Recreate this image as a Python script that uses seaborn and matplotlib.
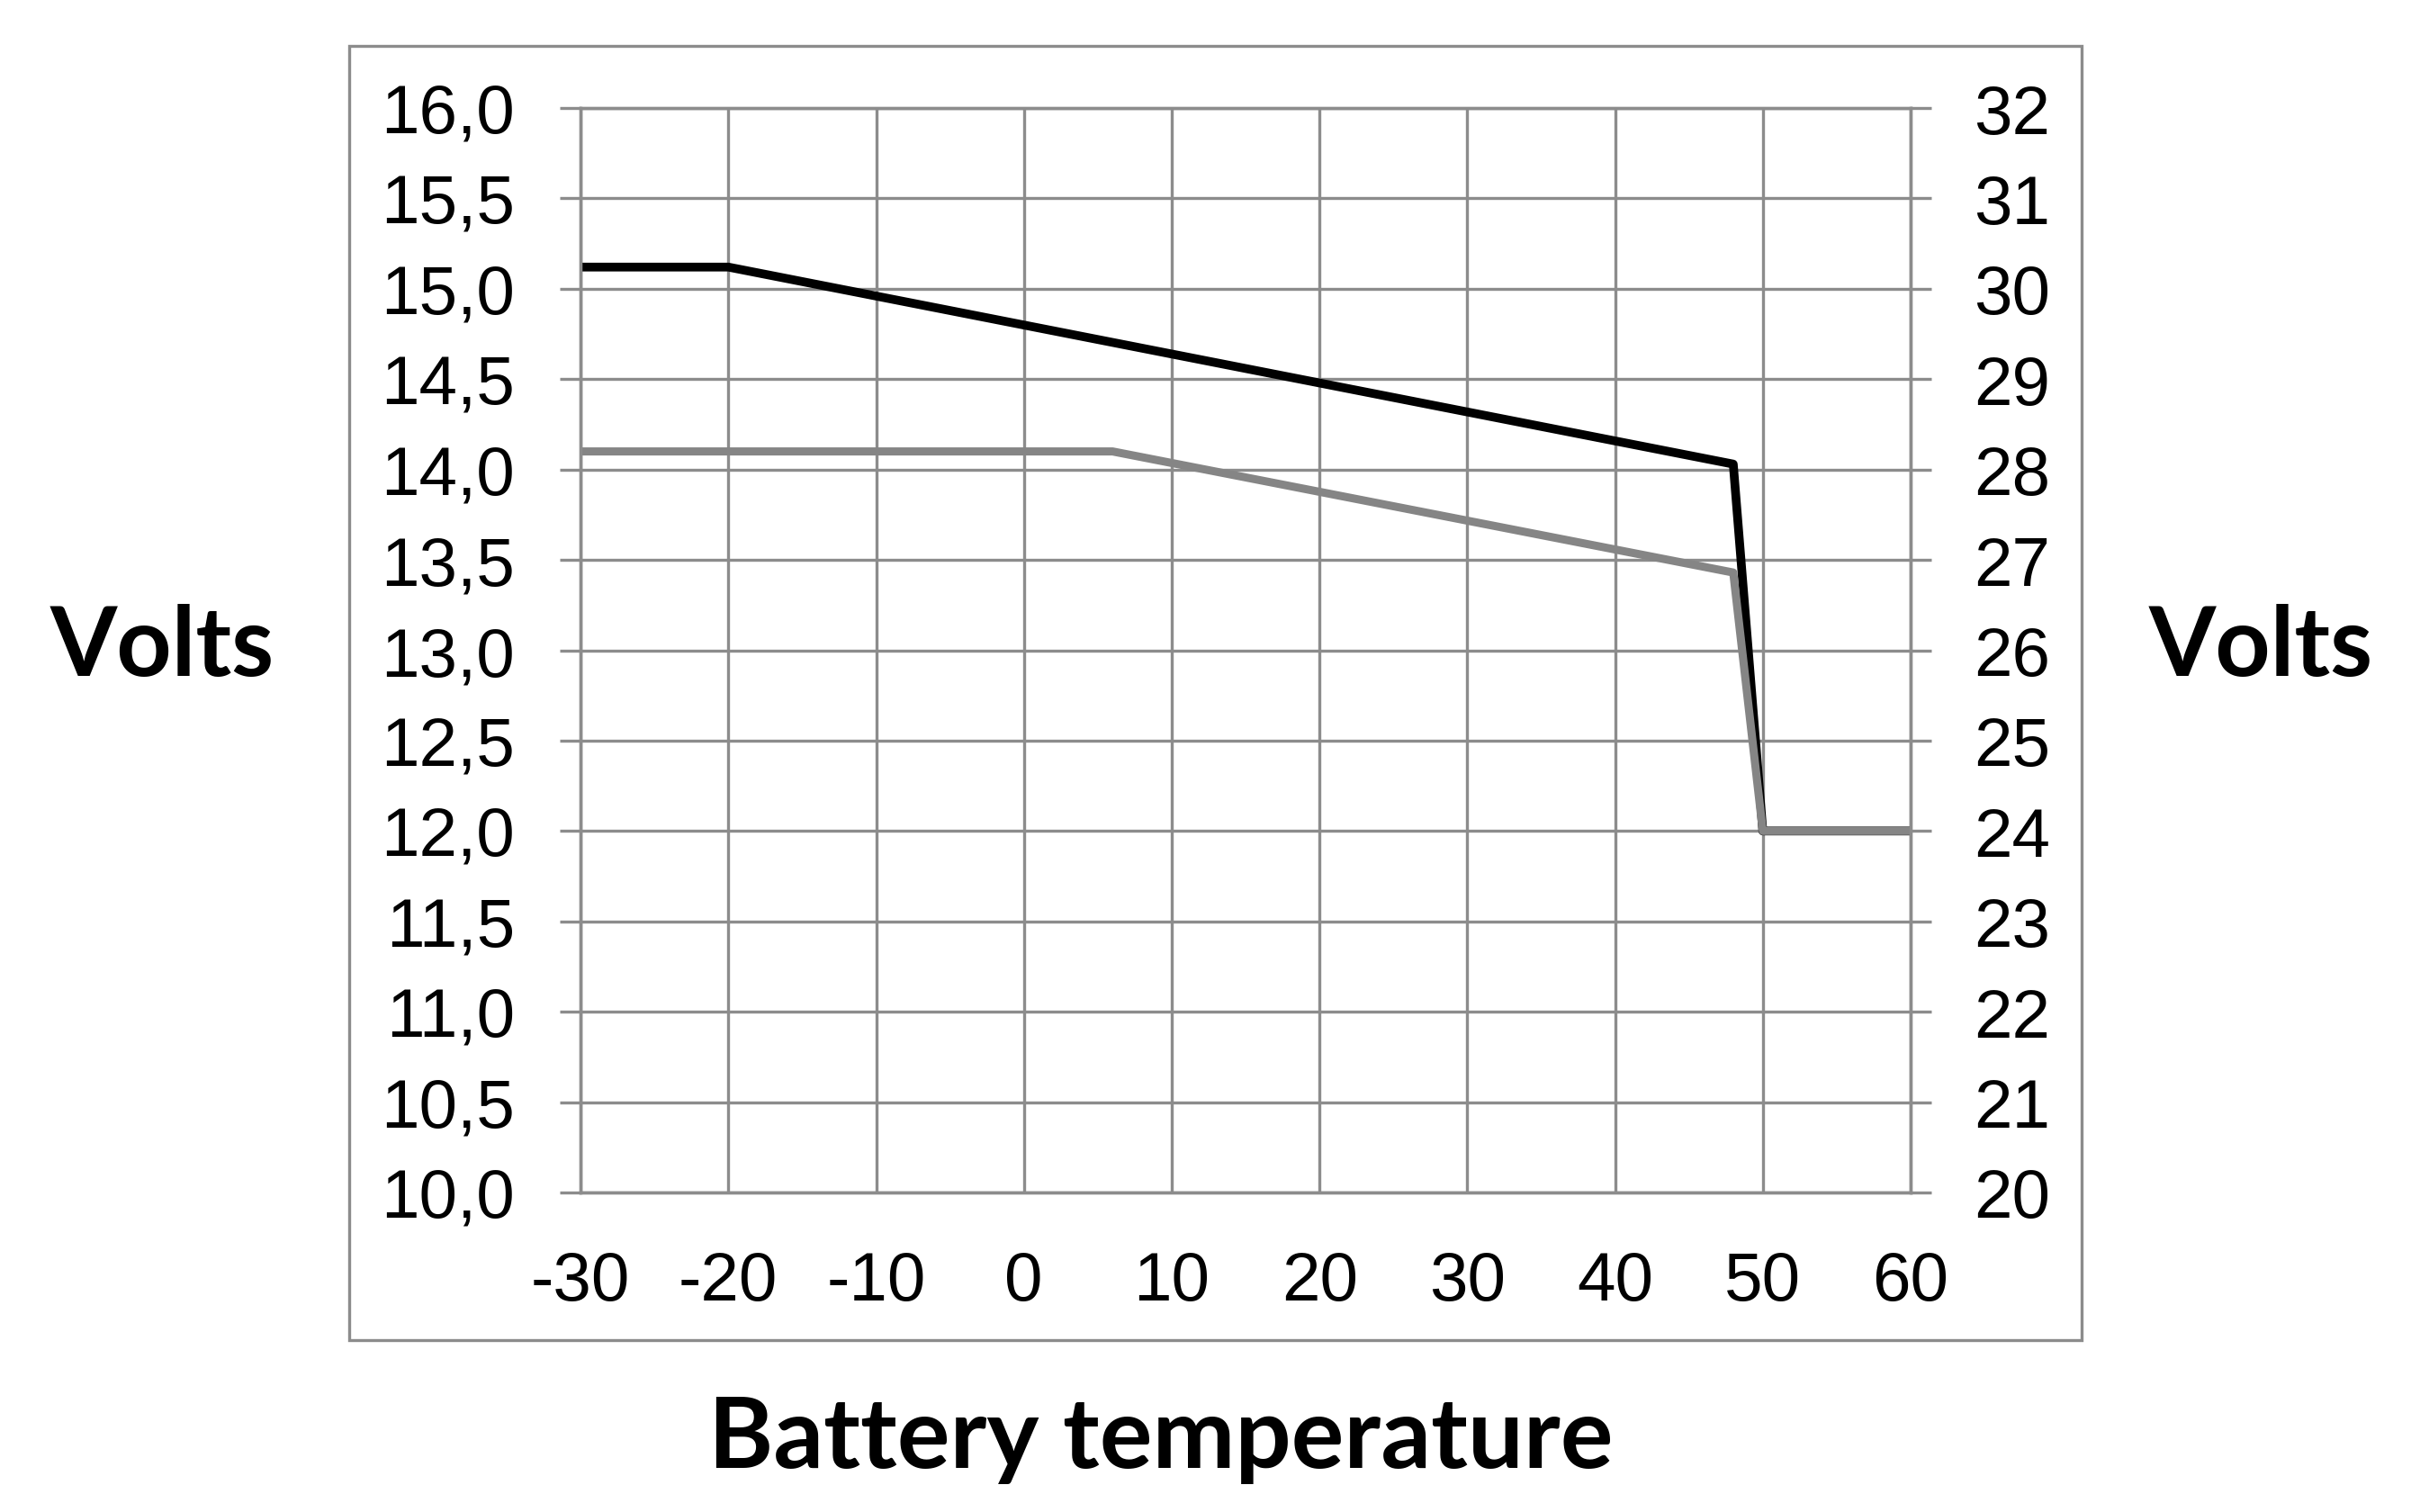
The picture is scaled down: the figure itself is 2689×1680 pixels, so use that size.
import pandas as pd
import seaborn as sns
import matplotlib.pyplot as plt
from matplotlib.patches import Rectangle

# Values
temps_high = [-30, -20, 48, 50, 60]
volts_high = [15.12, 15.12, 14.03, 12.0, 12.0]
temps_low = [-30, 6, 48, 50, 60]
volts_low = [14.1, 14.1, 13.43, 12.0, 12.0]

x_ticks = [-30, -20, -10, 0, 10, 20, 30, 40, 50, 60]
left_ticks = [10.0, 10.5, 11.0, 11.5, 12.0, 12.5, 13.0, 13.5, 14.0, 14.5, 15.0, 15.5, 16.0]
right_ticks = [20, 21, 22, 23, 24, 25, 26, 27, 28, 29, 30, 31, 32]

df_high = pd.DataFrame({"temp": temps_high, "volts": volts_high})
df_low = pd.DataFrame({"temp": temps_low, "volts": volts_low})

sns.set_theme(style="white")
plt.rcParams['font.family'] = ['Liberation Sans', 'DejaVu Sans']
plt.rcParams['axes.unicode_minus'] = False

grid_col = "#8c8c8c"

fig = plt.figure(figsize=(26.89, 16.81), dpi=100)
ax = fig.add_axes([0.2399, 0.2112, 0.5496, 0.7168])

# outer chart frame
fig.patches.append(Rectangle((0.1443, 0.1136), 0.7159, 0.8554, transform=fig.transFigure,
                             fill=False, edgecolor=grid_col, linewidth=2.4))

sns.lineplot(data=df_high, x="temp", y="volts", ax=ax, color="black",
             linewidth=7, estimator=None, sort=False)
sns.lineplot(data=df_low, x="temp", y="volts", ax=ax, color="#858585",
             linewidth=6.5, estimator=None, sort=False)

ax.set_xlim(-30, 60)
ax.set_ylim(10, 16)
ax.set_xticks(x_ticks)
ax.set_yticks(left_ticks)
ax.set_yticklabels([f"{v:.1f}".replace(".", ",") for v in left_ticks])
ax.set_xlabel("")
ax.set_ylabel("")
ax.set_axisbelow(True)
ax.grid(True, color=grid_col, linewidth=2.4)
ax.tick_params(axis="y", left=True, length=16.5, width=2.4, color=grid_col,
               pad=36, labelsize=55, labelcolor="black")
ax.tick_params(axis="x", bottom=False, pad=40, labelsize=55, labelcolor="black")
for sp in ax.spines.values():
    sp.set_color(grid_col)
    sp.set_linewidth(2.4)

ax2 = ax.twinx()
ax2.set_ylim(20, 32)
ax2.set_yticks(right_ticks)
ax2.grid(False)
ax2.tick_params(axis="y", right=True, length=16.5, width=2.4, color=grid_col,
                pad=34, labelsize=55, labelcolor="black")
for sp in ax2.spines.values():
    sp.set_color(grid_col)
    sp.set_linewidth(2.4)

label_font = dict(family=["Lato", "DejaVu Sans"], fontweight="bold",
                  ha="center", va="center", color="black")
fig.text(180 / 2689, 1 - 720 / 1681, "Volts", fontsize=77, **label_font)
fig.text(2512 / 2689, 1 - 720 / 1681, "Volts", fontsize=77, **label_font)
fig.text(1290 / 2689, 1 - 1600 / 1681, "Battery temperature", fontsize=79, **label_font)

fig.savefig("out.png", dpi=100)
